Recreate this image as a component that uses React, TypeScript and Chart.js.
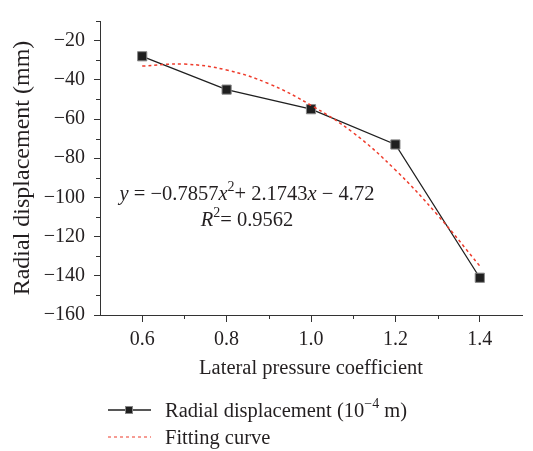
import { useEffect, useRef } from 'react';
import { Chart, registerables } from 'chart.js';

Chart.register(...registerables);

const FONT = '"Liberation Serif", "Times New Roman", serif';
const TEXT = '#231f20';
const AXIS = '#333333';

const xValues = [0.6, 0.8, 1.0, 1.2, 1.4];
const radialDisplacement = [-28, -45, -55, -73, -141];
const fitX = [0.6, 0.7, 0.8, 0.9, 1.0, 1.1, 1.2, 1.3, 1.4];
const fitY = [-33, -32, -35, -42, -53, -67, -86, -109, -135];
const xTicks = [0.6, 0.8, 1.0, 1.2, 1.4];
const xMinorTicks = [0.7, 0.9, 1.1, 1.3];
const yTicks = [-160, -140, -120, -100, -80, -60, -40, -20];
const yMinorTicks = [-150, -130, -110, -90, -70, -50, -30, -10];

type Part = { t: string; i?: boolean; sup?: boolean };

const legendItems: { kind: 'marker' | 'dashed'; parts: Part[] }[] = [
  { kind: 'marker', parts: [{ t: 'Radial displacement (10' }, { t: '\u22124', sup: true }, { t: ' m)' }] },
  { kind: 'dashed', parts: [{ t: 'Fitting curve' }] },
];

const equationLine1: Part[] = [
  { t: 'y', i: true },
  { t: ' = \u22120.7857' },
  { t: 'x', i: true },
  { t: '2', sup: true },
  { t: '+ 2.1743' },
  { t: 'x', i: true },
  { t: ' \u2212 4.72' },
];
const equationLine2: Part[] = [{ t: 'R', i: true }, { t: '2', sup: true }, { t: '= 0.9562' }];

function fontFor(p: Part, size: number) {
  const s = p.sup ? Math.round(size * 0.7) : size;
  return `${p.i ? 'italic ' : ''}${s}px ${FONT}`;
}

function drawParts(ctx: CanvasRenderingContext2D, parts: Part[], x: number, y: number, size: number, align: 'left' | 'center') {
  ctx.save();
  ctx.textBaseline = 'alphabetic';
  ctx.textAlign = 'left';
  ctx.fillStyle = TEXT;
  let total = 0;
  for (const p of parts) {
    ctx.font = fontFor(p, size);
    total += ctx.measureText(p.t).width;
  }
  let cx = align === 'center' ? x - total / 2 : x;
  for (const p of parts) {
    ctx.font = fontFor(p, size);
    ctx.fillText(p.t, cx, p.sup ? y - size * 0.42 : y);
    cx += ctx.measureText(p.t).width;
  }
  ctx.restore();
}

const extrasPlugin = {
  id: 'extras',
  afterDraw(chart: any) {
    const ctx: CanvasRenderingContext2D = chart.ctx;
    const xs = chart.scales.x;
    const ys = chart.scales.y;
    const area = chart.chartArea;
    ctx.save();
    ctx.strokeStyle = AXIS;
    ctx.lineWidth = 1;
    ctx.beginPath();
    for (const v of yMinorTicks) {
      const py = Math.round(ys.getPixelForValue(v)) + 0.5;
      ctx.moveTo(area.left - 4, py);
      ctx.lineTo(area.left, py);
    }
    for (const v of xMinorTicks) {
      const px = Math.round(xs.getPixelForValue(v)) + 0.5;
      ctx.moveTo(px, area.bottom);
      ctx.lineTo(px, area.bottom + 4);
    }
    ctx.stroke();
    ctx.restore();

    drawParts(ctx, equationLine1, 247, 200, 20.5, 'center');
    drawParts(ctx, equationLine2, 247, 226, 20.5, 'center');

    const rows = [410, 437];
    legendItems.forEach((item, idx) => {
      const y = rows[idx];
      ctx.save();
      if (item.kind === 'marker') {
        ctx.strokeStyle = '#1f1f1f';
        ctx.lineWidth = 1.3;
        ctx.beginPath();
        ctx.moveTo(108, y);
        ctx.lineTo(151, y);
        ctx.stroke();
        ctx.fillStyle = '#1f1f1f';
        ctx.strokeStyle = '#888';
        ctx.lineWidth = 1;
        ctx.fillRect(125.5, y - 3.5, 7, 7);
        ctx.strokeRect(125.5, y - 3.5, 7, 7);
      } else {
        ctx.strokeStyle = '#ee3b2b';
        ctx.lineWidth = 1.2;
        ctx.setLineDash([3, 3]);
        ctx.beginPath();
        ctx.moveTo(108, y);
        ctx.lineTo(151, y);
        ctx.stroke();
      }
      ctx.restore();
      drawParts(ctx, item.parts, 165, y + 6.5, 20.5, 'left');
    });
  },
};

export default function App() {
  const ref = useRef<HTMLCanvasElement>(null);
  useEffect(() => {
    const chart = new Chart(ref.current!, {
      type: 'line',
      data: {
        datasets: [
          {
            label: 'Radial displacement',
            data: xValues.map((x, i) => ({ x, y: radialDisplacement[i] })),
            borderColor: '#1f1f1f',
            borderWidth: 1.3,
            pointStyle: 'rect',
            pointRadius: 6.5,
            pointBackgroundColor: '#1f1f1f',
            pointBorderColor: '#8a8a8a',
            pointBorderWidth: 1,
            tension: 0,
            order: 1,
          },
          {
            label: 'Fitting curve',
            data: fitX.map((x, i) => ({ x, y: fitY[i] })),
            borderColor: '#ee3b2b',
            borderDash: [3, 3],
            borderWidth: 1.5,
            pointRadius: 0,
            tension: 0.4,
            order: 0,
          },
        ],
      },
      options: {
        animation: false,
        responsive: true,
        maintainAspectRatio: false,
        layout: { padding: { left: 0, right: 11, top: 7, bottom: 66 } },
        plugins: { legend: { display: false }, tooltip: { enabled: false } },
        scales: {
          x: {
            type: 'linear',
            min: 0.5,
            max: 1.5,
            afterBuildTicks: (a: any) => {
              a.ticks = xTicks.map((v) => ({ value: v }));
            },
            afterFit: (a: any) => {
              a.height = 70;
            },
            ticks: {
              callback: (v: any) => Number(v).toFixed(1),
              font: { family: FONT, size: 20 },
              color: TEXT,
              padding: 6,
              maxRotation: 0,
              autoSkip: false,
            },
            grid: { drawOnChartArea: false, drawTicks: true, tickLength: 7, color: AXIS, tickColor: AXIS },
            border: { display: true, color: AXIS, width: 1 },
            title: {
              display: true,
              text: 'Lateral pressure coefficient',
              font: { family: FONT, size: 20.5 },
              color: TEXT,
              padding: { top: 0, bottom: 4 },
            },
          },
          y: {
            type: 'linear',
            min: -160,
            max: -10,
            afterBuildTicks: (a: any) => {
              a.ticks = yTicks.map((v) => ({ value: v }));
            },
            afterFit: (a: any) => {
              a.width = 100;
            },
            ticks: {
              callback: (v: any) => (Number(v) < 0 ? '\u2212' + Math.abs(Number(v)) : String(v)),
              font: { family: FONT, size: 20 },
              color: TEXT,
              padding: 9,
              autoSkip: false,
            },
            grid: { drawOnChartArea: false, drawTicks: true, tickLength: 6, color: AXIS, tickColor: AXIS },
            border: { display: true, color: AXIS, width: 1 },
            title: {
              display: true,
              text: 'Radial displacement (mm)',
              font: { family: FONT, size: 24 },
              color: TEXT,
              padding: { top: 8, bottom: 0 },
            },
          },
        },
      },
      plugins: [extrasPlugin],
    } as any);
    return () => chart.destroy();
  }, []);
  return (
    <div style={{ position: 'fixed', left: 0, top: 0, width: 533, height: 451 }}>
      <canvas ref={ref} />
    </div>
  );
}
